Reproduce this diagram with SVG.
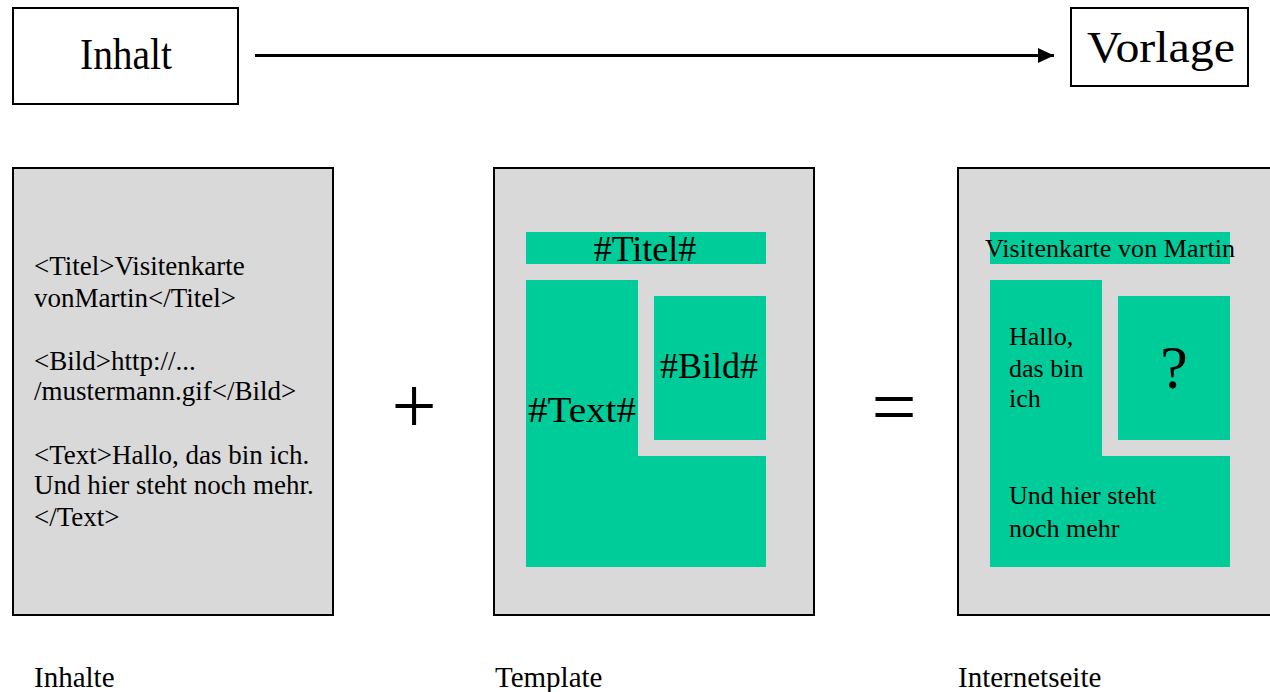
<svg xmlns="http://www.w3.org/2000/svg" width="1270" height="692" viewBox="0 0 1270 692">
<defs>
<style>
text{font-family:"Liberation Serif","Times New Roman",serif;fill:#000}
.box{fill:#fff;stroke:#000;stroke-width:2}
.panel{fill:#d9d9d9;stroke:#000;stroke-width:2}
.g{fill:#00cc99}
.big{font-size:44px}
.ph{font-size:36px}
.t{font-size:27px}
.r{font-size:26px}
.lbl{font-size:29px}
.op{font-size:80px}
.conn{stroke:#000;stroke-width:3;fill:none}
</style>
<marker id="ah" markerWidth="16" markerHeight="15" refX="16" refY="7.5" orient="auto" markerUnits="userSpaceOnUse">
<path d="M0,0 L16,7.5 L0,15 Z" fill="#000"/>
</marker>
</defs>
<rect width="1270" height="692" fill="#fff"/>

<g id="inhalt">
<rect class="box" x="13" y="8" width="225" height="96"/>
<text class="big" x="126" y="69" text-anchor="middle" textLength="92" lengthAdjust="spacingAndGlyphs">Inhalt</text>
</g>

<g id="vorlage">
<rect class="box" x="1071" y="8" width="177" height="78"/>
<text class="big" x="1087" y="62" textLength="148" lengthAdjust="spacingAndGlyphs">Vorlage</text>
</g>

<g id="connectors">
<line class="conn" x1="255" y1="55.5" x2="1054" y2="55.5" marker-end="url(#ah)"/>
</g>

<g id="inhalte-panel">
<rect class="panel" x="13" y="168" width="320" height="447"/>
<text class="t" x="34" y="275">&lt;Titel&gt;Visitenkarte</text>
<text class="t" x="34" y="307">vonMartin&lt;/Titel&gt;</text>
<text class="t" x="34" y="370">&lt;Bild&gt;http://...</text>
<text class="t" x="34" y="400">/mustermann.gif&lt;/Bild&gt;</text>
<text class="t" x="34" y="464">&lt;Text&gt;Hallo, das bin ich.</text>
<text class="t" x="34" y="494">Und hier steht noch mehr.</text>
<text class="t" x="34" y="526">&lt;/Text&gt;</text>
</g>

<g id="plus">
<text class="op" x="414" y="433" text-anchor="middle">+</text>
</g>

<g id="template-panel">
<rect class="panel" x="494" y="168" width="320" height="447"/>
<rect class="g" x="526" y="232" width="240" height="32"/>
<path class="g" d="M526,280 H638 V456 H766 V567 H526 Z"/>
<rect class="g" x="654" y="296" width="112" height="144"/>
<text class="ph" x="645" y="261" text-anchor="middle">#Titel#</text>
<text class="ph" x="528" y="422" textLength="108" lengthAdjust="spacingAndGlyphs">#Text#</text>
<text class="ph" x="660" y="378">#Bild#</text>
</g>

<g id="equals">
<text class="op" x="894" y="434" text-anchor="middle">=</text>
</g>

<g id="internetseite-panel">
<rect class="panel" x="958" y="168" width="330" height="447"/>
<rect class="g" x="990" y="232" width="240" height="32"/>
<path class="g" d="M990,280 H1102 V456 H1230 V567 H990 Z"/>
<rect class="g" x="1118" y="296" width="112" height="144"/>
<text class="r" x="985" y="257" textLength="250" lengthAdjust="spacing">Visitenkarte von Martin</text>
<text class="r" x="1009" y="345">Hallo,</text>
<text class="r" x="1009" y="377">das bin</text>
<text class="r" x="1009" y="407">ich</text>
<text x="1174" y="388" text-anchor="middle" style="font-size:62px">?</text>
<text class="r" x="1009" y="504">Und hier steht</text>
<text class="r" x="1009" y="537">noch mehr</text>
</g>

<g id="labels">
<text class="lbl" x="34" y="687">Inhalte</text>
<text class="lbl" x="495" y="687">Template</text>
<text class="lbl" x="958" y="687">Internetseite</text>
</g>
</svg>
